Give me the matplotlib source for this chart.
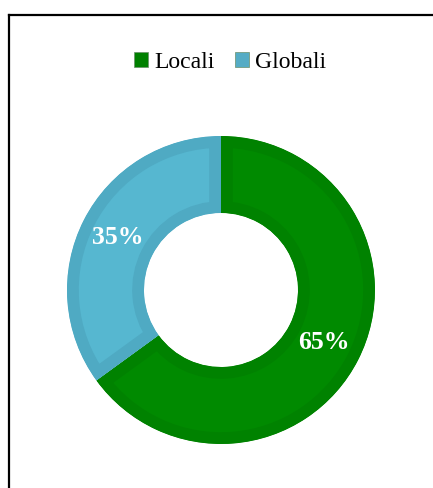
import matplotlib
matplotlib.use('Agg')
import matplotlib.pyplot as plt
from matplotlib.lines import Line2D
from matplotlib.patches import Patch

LABELS = ['Locali', 'Globali']
VALUES = [65, 35]
COLORS = ['#008A00', '#56B7D0']
EDGE_COLORS = ['#008200', '#4FAAC3']
LEGEND_COLORS = ['#008000', '#55ACC5']

plt.rcParams['font.family'] = ['Liberation Serif', 'DejaVu Serif']

fig = plt.figure(figsize=(4.33, 4.88), dpi=100)
ax = fig.add_axes([0.1547, 0.0902, 0.7113, 0.6311])

wedges, texts, autotexts = ax.pie(
    VALUES, colors=COLORS, startangle=90, counterclock=False,
    radius=1.0, pctdistance=0.75, autopct='%1.0f%%',
    wedgeprops=dict(width=0.5),
    textprops=dict(color='white', fontsize=18.5, fontweight='bold'))

# darker band along the inside of every segment edge
for w, ec in zip(wedges, EDGE_COLORS):
    w.set_edgecolor(ec)
    w.set_linewidth(17)
    w.set_clip_path(w.get_path(), w.get_transform())
    w.set_clip_on(True)

ax.set_xlim(-1, 1)
ax.set_ylim(-1, 1)
ax.set_aspect('equal')
ax.axis('off')

handles = [Patch(facecolor=c, edgecolor='#6a8f6a', linewidth=0.5) for c in LEGEND_COLORS]
fig.legend(handles, LABELS, loc='center', bbox_to_anchor=(230 / 433, 1 - 62 / 488),
           ncol=2, frameon=False, fontsize=17, handlelength=0.62, handleheight=0.62,
           handletextpad=0.25, columnspacing=0.85)

# outer frame, only top and left sides fall inside the image
fig.add_artist(Line2D([8.5 / 433, 1.0], [1 - 14.5 / 488, 1 - 14.5 / 488],
                      color='black', linewidth=1.6, transform=fig.transFigure))
fig.add_artist(Line2D([8.5 / 433, 8.5 / 433], [1 - 14.5 / 488, 0.0],
                      color='black', linewidth=1.6, transform=fig.transFigure))

fig.savefig('out.png', dpi=100)
